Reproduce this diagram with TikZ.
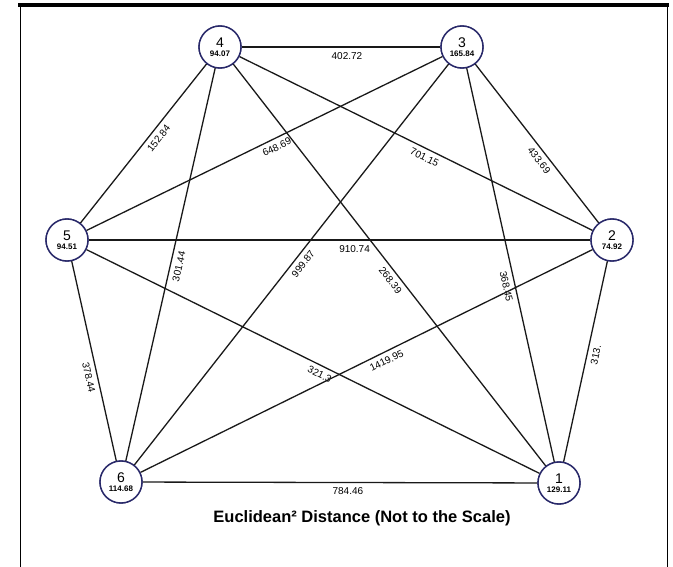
\documentclass[tikz,border=0pt]{standalone}
\usepackage{fontspec}
\setmainfont{Liberation Sans}
\begin{document}
\begin{tikzpicture}[x=1pt,y=-1pt,
  vtx/.style={circle, draw=vcol, line width=1.4pt, fill=white, minimum size=42pt, inner sep=0pt, align=center},
  edge/.style={draw=black!90, line width=1.3pt},
  lbl/.style={font=\fontsize{10}{11}\selectfont, sloped, below=3.5pt, inner sep=1pt},
  frame/.style={draw=black}]
\definecolor{vcol}{RGB}{40,40,105}
\useasboundingbox (0,0) rectangle (673,567);
\draw[frame, line width=4pt] (18,5) -- (669,5);
\draw[frame, line width=1pt] (20,5) -- (20,567);
\draw[frame, line width=1pt] (667,5) -- (667,567);

\newcommand{\vtxtext}[2]{{\fontsize{14}{14}\selectfont #1}\\[-3pt]{\bfseries\fontsize{8}{8}\selectfont #2}}
\node[vtx] (n4) at (220,47) {};
\node[vtx] (n3) at (462,47) {};
\node[vtx] (n5) at (67,240) {};
\node[vtx] (n2) at (612,240) {};
\node[vtx] (n6) at (121,482) {};
\node[vtx] (n1) at (559,483) {};

\draw[edge] (n4) -- node[lbl, pos=0.53] {402.72} (n3);
\draw[edge] (n5) -- node[lbl, pos=0.567] {152.84} (n4);
\draw[edge] (n5) -- node[lbl, pos=0.524] {648.69} (n3);
\draw[edge] (n4) -- node[lbl, pos=0.535] {701.15} (n2);
\draw[edge] (n3) -- node[lbl, pos=0.573] {433.69} (n2);
\draw[edge] (n5) -- node[lbl, pos=0.53] {910.74} (n2);
\draw[edge] (n4) -- node[lbl, pos=0.5] {301.44} (n6);
\draw[edge] (n6) -- node[lbl, pos=0.515] {999.87} (n3);
\draw[edge] (n4) -- node[lbl, pos=0.525] {268.39} (n1);
\draw[edge] (n3) -- node[lbl, pos=0.55] {368.45} (n1);
\draw[edge] (n2) -- node[lbl, pos=0.458] {313.} (n1);
\draw[edge] (n5) -- node[lbl, pos=0.574] {378.44} (n6);
\draw[edge] (n5) -- node[lbl, pos=0.523] {321.3} (n1);
\draw[edge] (n2) -- node[lbl, pos=0.464] {1419.95} (n6);
\draw[edge] (n6) -- node[lbl, pos=0.52] {784.46} (n1);

\node[vtx] (t4) at (n4) {\vtxtext{4}{94.07}};
\node[vtx] (t3) at (n3) {\vtxtext{3}{165.84}};
\node[vtx] (t5) at (n5) {\vtxtext{5}{94.51}};
\node[vtx] (t2) at (n2) {\vtxtext{2}{74.92}};
\node[vtx] (t6) at (n6) {\vtxtext{6}{114.68}};
\node[vtx] (t1) at (n1) {\vtxtext{1}{129.11}};

\node[font=\bfseries\fontsize{16.5}{16.5}\selectfont] (title) at (362,518) {Euclidean² Distance (Not to the Scale)};
\end{tikzpicture}
\end{document}
